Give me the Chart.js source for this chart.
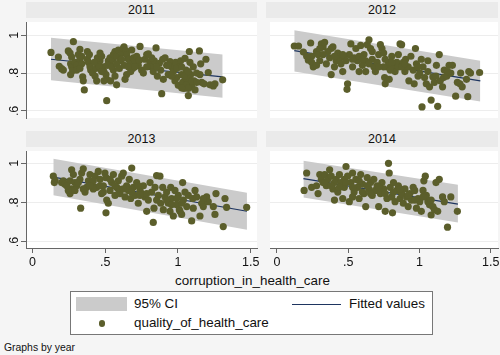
<!DOCTYPE html>
<html><head><meta charset="utf-8">
<script src="https://cdn.jsdelivr.net/npm/chart.js@4/dist/chart.umd.min.js"></script>
<style>
body{margin:0;}
#root{position:relative;width:500px;height:355px;background:#f5f5f5;font-family:"Liberation Sans",Arial,sans-serif;color:#111;overflow:hidden;}
.strip{position:absolute;background:#eaeaea;text-align:center;font-size:12.5px;height:16px;line-height:17px;}
canvas{position:absolute;}
.txt{position:absolute;white-space:nowrap;}
</style></head><body><div id="root"></div>
<script>
const years = ['2011', '2012', '2013', '2014'];
const xTicks = [0, 0.5, 1, 1.5];
const xTickLabels = ['0', '.5', '1', '1.5'];
const yTicks = [0.6, 0.8, 1];
const yTickLabels = ['.6', '.8', '1'];
const seriesNames = ['95% CI', 'Fitted values', 'quality_of_health_care'];
const xTitle = 'corruption_in_health_care';
const noteText = 'Graphs by year';

const pts2011 = [[0.127,0.909],[0.178,0.885],[0.184,0.836],[0.200,0.823],[0.212,0.816],[0.246,0.917],[0.258,0.906],[0.269,0.885],[0.281,0.966],[0.326,0.925],[0.315,0.898],[0.338,0.889],[0.262,0.849],[0.269,0.833],[0.276,0.813],[0.262,0.792],[0.292,0.857],[0.304,0.841],[0.326,0.873],[0.338,0.849],[0.345,0.780],[0.349,0.759],[0.356,0.711],[0.377,0.914],[0.377,0.873],[0.384,0.857],[0.395,0.833],[0.400,0.816],[0.413,0.800],[0.430,0.784],[0.436,0.824],[0.452,0.849],[0.464,0.865],[0.446,0.881],[0.475,0.889],[0.464,0.906],[0.487,0.833],[0.491,0.808],[0.505,0.792],[0.510,0.767],[0.521,0.865],[0.533,0.849],[0.533,0.881],[0.551,0.873],[0.556,0.898],[0.567,0.914],[0.578,0.889],[0.590,0.922],[0.556,0.816],[0.567,0.784],[0.537,0.759],[0.491,0.759],[0.510,0.654],[0.578,0.738],[0.601,0.865],[0.613,0.906],[0.624,0.930],[0.629,0.938],[0.643,0.917],[0.647,0.898],[0.659,0.873],[0.670,0.849],[0.682,0.922],[0.688,0.824],[0.675,0.808],[0.647,0.792],[0.636,0.767],[0.693,0.881],[0.704,0.865],[0.716,0.889],[0.727,0.841],[0.739,0.941],[0.750,0.816],[0.762,0.800],[0.773,0.873],[0.785,0.898],[0.796,0.901],[0.808,0.857],[0.819,0.833],[0.830,0.808],[0.837,0.865],[0.849,0.933],[0.858,0.784],[0.872,0.852],[0.881,0.816],[0.888,0.691],[0.899,0.767],[0.911,0.881],[0.922,0.841],[0.933,0.792],[0.945,0.860],[0.956,0.833],[0.968,0.808],[0.979,0.759],[0.984,0.857],[0.991,0.776],[1.002,0.735],[1.014,0.833],[1.018,0.865],[1.025,0.792],[1.032,0.751],[1.041,0.719],[1.048,0.878],[1.055,0.816],[1.060,0.767],[1.064,0.743],[1.071,0.681],[1.078,0.914],[1.082,0.857],[1.087,0.792],[1.094,0.727],[1.105,0.833],[1.110,0.759],[1.117,0.711],[1.128,0.800],[1.147,0.917],[1.156,0.849],[1.163,0.751],[1.179,0.743],[1.192,0.873],[1.208,0.803],[1.220,0.738],[1.243,0.732],[1.254,0.743],[1.307,0.764],[0.391,0.898],[0.425,0.857],[0.459,0.833],[0.475,0.808],[0.514,0.841],[0.544,0.833],[0.578,0.849],[0.597,0.824],[0.613,0.873],[0.629,0.841],[0.659,0.833],[0.704,0.833],[0.734,0.868],[0.785,0.833],[0.819,0.881],[0.853,0.833],[0.895,0.873],[0.933,0.841],[0.956,0.784],[0.991,0.824],[1.025,0.833],[1.044,0.784],[1.071,0.808],[1.094,0.759],[1.128,0.751],[1.055,0.735],[1.071,0.719],[1.025,0.722],[1.151,0.792],[0.304,0.816],[0.326,0.824],[0.441,0.759]];

const pts2012 = [[0.122,0.943],[0.152,0.943],[0.186,0.911],[0.237,0.959],[0.221,0.868],[0.244,0.889],[0.255,0.833],[0.278,0.914],[0.289,0.898],[0.301,0.865],[0.312,0.954],[0.324,0.938],[0.335,0.963],[0.347,0.849],[0.370,0.881],[0.381,0.930],[0.393,0.938],[0.404,0.833],[0.381,0.792],[0.427,0.906],[0.439,0.873],[0.450,0.849],[0.462,0.808],[0.485,0.865],[0.496,0.743],[0.492,0.714],[0.508,0.898],[0.519,0.954],[0.531,0.833],[0.554,0.930],[0.565,0.865],[0.577,0.808],[0.588,0.946],[0.600,0.841],[0.611,0.898],[0.623,0.808],[0.634,0.950],[0.646,0.976],[0.657,0.930],[0.669,0.873],[0.680,0.833],[0.691,0.808],[0.703,0.857],[0.714,0.898],[0.726,0.950],[0.737,0.930],[0.749,0.906],[0.756,0.776],[0.760,0.743],[0.772,0.833],[0.783,0.857],[0.788,0.767],[0.806,0.889],[0.818,0.833],[0.829,0.808],[0.841,0.857],[0.852,0.898],[0.864,0.954],[0.875,0.950],[0.887,0.857],[0.898,0.808],[0.903,0.873],[0.921,0.833],[0.926,0.759],[0.940,0.889],[0.956,0.816],[0.963,0.743],[0.972,0.930],[0.979,0.849],[0.990,0.784],[1.002,0.800],[1.013,0.873],[1.018,0.621],[1.025,0.833],[1.036,0.776],[1.048,0.743],[1.059,0.865],[1.071,0.727],[1.082,0.657],[1.094,0.780],[1.105,0.751],[1.119,0.841],[1.128,0.624],[1.139,0.898],[1.146,0.759],[1.162,0.727],[1.169,0.776],[1.174,0.816],[1.192,0.784],[1.208,0.841],[1.220,0.800],[1.231,0.841],[1.254,0.678],[1.266,0.751],[1.284,0.743],[1.300,0.727],[1.330,0.767],[1.339,0.675],[1.346,0.808],[1.358,0.800],[1.422,0.803],[0.209,0.889],[0.358,0.914],[0.416,0.865],[0.473,0.889],[0.542,0.881],[0.623,0.865],[0.669,0.914],[0.749,0.833],[0.795,0.816],[0.852,0.833],[0.301,0.930],[0.324,0.898],[0.404,0.889],[0.462,0.898],[0.531,0.873],[0.577,0.889],[0.646,0.849],[0.714,0.833],[0.806,0.857],[0.875,0.833],[0.990,0.833],[1.059,0.808],[1.116,0.784],[1.197,0.808],[1.289,0.800],[0.244,0.857],[0.278,0.841],[0.600,0.873],[0.760,0.873],[0.898,0.849]];

const pts2013 = [[0.143,0.935],[0.155,0.914],[0.150,0.902],[0.200,0.902],[0.212,0.911],[0.223,0.894],[0.258,0.911],[0.269,0.967],[0.281,0.943],[0.292,0.902],[0.269,0.870],[0.258,0.846],[0.246,0.862],[0.304,0.886],[0.326,0.919],[0.338,0.951],[0.349,0.972],[0.331,0.772],[0.361,0.854],[0.372,0.878],[0.384,0.911],[0.395,0.943],[0.407,0.894],[0.430,0.935],[0.441,0.878],[0.452,0.959],[0.464,0.919],[0.475,0.846],[0.487,0.886],[0.498,0.951],[0.505,0.927],[0.505,0.748],[0.510,0.813],[0.521,0.797],[0.533,0.862],[0.544,0.902],[0.556,0.943],[0.567,0.837],[0.578,0.878],[0.590,0.911],[0.601,0.846],[0.613,0.935],[0.624,0.951],[0.636,0.829],[0.647,0.886],[0.659,0.862],[0.665,0.919],[0.675,0.821],[0.682,0.976],[0.693,0.878],[0.704,0.837],[0.716,0.902],[0.727,0.797],[0.739,0.862],[0.750,0.846],[0.762,0.886],[0.773,0.829],[0.785,0.756],[0.796,0.813],[0.808,0.902],[0.819,0.854],[0.830,0.699],[0.835,0.772],[0.842,0.878],[0.853,0.938],[0.865,0.837],[0.876,0.935],[0.881,0.797],[0.895,0.878],[0.899,0.764],[0.911,0.829],[0.922,0.854],[0.933,0.797],[0.945,0.756],[0.950,0.878],[0.956,0.821],[0.968,0.732],[0.979,0.862],[0.991,0.789],[1.002,0.837],[1.009,0.764],[1.014,0.756],[1.025,0.740],[1.032,0.902],[1.037,0.813],[1.048,0.854],[1.060,0.780],[1.071,0.837],[1.094,0.707],[1.101,0.821],[1.117,0.862],[1.128,0.829],[1.151,0.732],[1.163,0.797],[1.174,0.780],[1.197,0.829],[1.208,0.805],[1.243,0.780],[1.254,0.740],[1.261,0.846],[1.311,0.678],[1.323,0.821],[1.334,0.776],[1.472,0.776],[0.315,0.902],[0.418,0.870],[0.533,0.919],[0.590,0.870],[0.739,0.837],[0.922,0.813],[0.991,0.821],[0.418,0.911],[0.464,0.886],[0.727,0.886],[0.349,0.870],[0.395,0.886],[0.487,0.854],[0.567,0.886],[0.624,0.870],[0.682,0.854],[0.785,0.846],[0.853,0.813],[0.956,0.789],[1.025,0.797],[1.105,0.772],[1.174,0.821],[0.235,0.886],[0.292,0.862]];

const pts2014 = [[0.191,0.862],[0.209,0.951],[0.244,0.878],[0.278,0.886],[0.289,0.846],[0.301,0.943],[0.312,0.919],[0.324,0.902],[0.335,0.943],[0.347,0.886],[0.358,0.919],[0.370,0.967],[0.381,0.935],[0.393,0.870],[0.404,0.813],[0.416,0.919],[0.427,0.854],[0.439,0.943],[0.450,0.902],[0.462,0.821],[0.473,0.878],[0.485,0.984],[0.496,0.935],[0.508,0.805],[0.519,0.902],[0.531,0.951],[0.542,0.854],[0.554,0.919],[0.565,0.878],[0.577,0.821],[0.588,0.943],[0.600,0.894],[0.611,0.846],[0.623,0.780],[0.634,0.927],[0.646,0.870],[0.657,0.902],[0.669,0.837],[0.680,0.919],[0.691,0.862],[0.703,0.886],[0.714,0.780],[0.726,0.846],[0.737,0.902],[0.749,0.870],[0.760,0.756],[0.772,0.821],[0.783,1.000],[0.788,0.951],[0.795,0.878],[0.806,0.829],[0.811,0.748],[0.818,0.902],[0.829,0.805],[0.841,0.862],[0.852,0.886],[0.864,0.821],[0.875,0.846],[0.887,0.797],[0.898,0.870],[0.910,0.829],[0.921,0.780],[0.933,0.846],[0.944,0.813],[0.956,0.878],[0.967,0.862],[0.979,0.772],[0.990,0.821],[1.002,0.805],[1.013,0.756],[1.025,0.862],[1.031,0.911],[1.041,0.935],[1.048,0.837],[1.059,0.805],[1.071,0.789],[1.082,0.737],[1.094,0.780],[1.105,0.764],[1.116,0.902],[1.128,0.756],[1.139,0.919],[1.162,0.829],[1.174,0.805],[1.197,0.675],[1.220,0.829],[1.266,0.756],[0.335,0.902],[0.404,0.902],[0.473,0.919],[0.531,0.878],[0.600,0.854],[0.657,0.846],[0.760,0.846],[0.921,0.837],[1.025,0.829],[0.381,0.886],[0.485,0.902],[0.577,0.911],[0.634,0.886],[0.714,0.878],[0.818,0.854],[0.864,0.870],[0.967,0.813],[1.082,0.813],[0.439,0.878],[0.531,0.829]];

const fitX2011 = [0.127, 1.307], fitY2011 = [0.873, 0.780], ciHi2011 = [0.987, 0.898], ciLo2011 = [0.762, 0.670];
const fitX2012 = [0.122, 1.427], fitY2012 = [0.919, 0.759], ciHi2012 = [1.027, 0.865], ciLo2012 = [0.808, 0.649];
const fitX2013 = [0.143, 1.474], fitY2013 = [0.930, 0.756], ciHi2013 = [1.024, 0.850], ciLo2013 = [0.838, 0.662];
const fitX2014 = [0.186, 1.270], fitY2014 = [0.922, 0.792], ciHi2014 = [1.013, 0.891], ciLo2014 = [0.826, 0.699];

const panelData = [
  {pts: pts2011, fx: fitX2011, fy: fitY2011, hi: ciHi2011, lo: ciLo2011},
  {pts: pts2012, fx: fitX2012, fy: fitY2012, hi: ciHi2012, lo: ciLo2012},
  {pts: pts2013, fx: fitX2013, fy: fitY2013, hi: ciHi2013, lo: ciLo2013},
  {pts: pts2014, fx: fitX2014, fy: fitY2014, hi: ciHi2014, lo: ciLo2014}
];

const C = {band: '#cbcbcb', fit: '#1e3560', dot: '#5b5e2b', axis: '#666', grid: '#ededed'};
const FONT = '"Liberation Sans", Arial, sans-serif';

const panelLayout = [
  {px: 26, py: 18, pw: 231, ph: 104, yw: 26, xh: 0, showY: true, showX: false, xr: [-0.0447, 1.543], yr: [0.5624, 1.070], sy: 2},
  {px: 266, py: 18, pw: 232, ph: 104, yw: 0, xh: 0, showY: false, showX: false, xr: [-0.0482, 1.551], yr: [0.5624, 1.070], sy: 2},
  {px: 26, py: 147, pw: 231, ph: 101, yw: 26, xh: 25, showY: true, showX: true, xr: [-0.0447, 1.543], yr: [0.569, 1.063], sy: 131},
  {px: 266, py: 147, pw: 232, ph: 101, yw: 0, xh: 25, showY: false, showX: true, xr: [-0.0482, 1.551], yr: [0.569, 1.063], sy: 131}
];

const root = document.getElementById('root');
const whiteArea = {
  id: 'whiteArea',
  beforeDraw(c) {
    const a = c.chartArea, ctx = c.ctx;
    ctx.save(); ctx.fillStyle = '#ffffff';
    ctx.fillRect(a.left, a.top, a.right - a.left, a.bottom - a.top);
    ctx.restore();
  }
};
const PADR = 10;

panelLayout.forEach((L, i) => {
  const D = panelData[i];
  const strip = document.createElement('div');
  strip.className = 'strip';
  strip.style.left = L.px + 'px'; strip.style.top = L.sy + 'px'; strip.style.width = L.pw + 'px';
  strip.textContent = years[i];
  root.appendChild(strip);

  const cv = document.createElement('canvas');
  const W = L.yw + L.pw + PADR, H = L.ph + L.xh;
  cv.width = W; cv.height = H;
  cv.style.width = W + 'px'; cv.style.height = H + 'px';
  cv.style.left = (L.px - L.yw) + 'px'; cv.style.top = L.py + 'px';
  root.appendChild(cv);

  new Chart(cv, {
    type: 'scatter',
    data: {
      datasets: [
        {type: 'line', label: 'ciHi', data: D.fx.map((x, k) => ({x: x, y: D.hi[k]})), borderWidth: 0, pointRadius: 0, fill: false, order: 3, tension: 0},
        {type: 'line', label: seriesNames[0], data: D.fx.map((x, k) => ({x: x, y: D.lo[k]})), borderWidth: 0, pointRadius: 0, fill: '-1', backgroundColor: C.band, order: 2, tension: 0},
        {type: 'line', label: seriesNames[1], data: D.fx.map((x, k) => ({x: x, y: D.fy[k]})), borderColor: C.fit, borderWidth: 1.2, pointRadius: 0, fill: false, order: 1, tension: 0},
        {type: 'scatter', label: seriesNames[2], data: D.pts.map(p => ({x: p[0], y: p[1]})), backgroundColor: C.dot, borderColor: C.dot, borderWidth: 0, pointRadius: 3.6, order: 0}
      ]
    },
    options: {
      responsive: false, animation: false, devicePixelRatio: 1, events: [],
      layout: {padding: {left: 0, top: 0, bottom: 0, right: PADR}},
      plugins: {legend: {display: false}, tooltip: {enabled: false}},
      scales: {
        x: {
          type: 'linear', min: L.xr[0], max: L.xr[1], display: L.showX,
          afterBuildTicks: s => { s.ticks = xTicks.map(v => ({value: v})); },
          afterFit: s => { s.height = L.xh; s.paddingLeft = 0; s.paddingRight = 0; },
          grid: {drawOnChartArea: false, drawTicks: true, tickLength: 5, tickColor: C.axis},
          border: {display: true, color: C.axis, width: 1},
          ticks: {maxRotation: 0, minRotation: 0, padding: 2, color: '#111', font: {size: 12.5, family: FONT}, callback: (v, k) => xTickLabels[k]}
        },
        y: {
          type: 'linear', min: L.yr[0], max: L.yr[1],
          afterBuildTicks: s => { s.ticks = yTicks.map(v => ({value: v})); },
          afterFit: s => { s.width = L.yw; s.paddingTop = 0; s.paddingBottom = 0; },
          grid: {color: C.grid, lineWidth: 1, drawTicks: L.showY, tickLength: 5, tickColor: C.axis},
          border: {display: L.showY, color: C.axis, width: 1},
          ticks: {display: L.showY, minRotation: 90, maxRotation: 90, crossAlign: 'center', padding: 1, color: '#111', font: {size: 12.5, family: FONT}, callback: (v, k) => yTickLabels[k]}
        }
      }
    },
    plugins: [whiteArea]
  });
});

function addText(t, left, top, size, extra) {
  const d = document.createElement('div');
  d.className = 'txt'; d.textContent = t;
  d.style.left = left + 'px'; d.style.top = top + 'px'; d.style.fontSize = size + 'px';
  if (extra) Object.assign(d.style, extra);
  root.appendChild(d);
  return d;
}
// x-axis title
addText(xTitle, 0, 273, 13.4, {width: '505px', textAlign: 'center', lineHeight: '16px'});
// legend box
const lg = document.createElement('div');
Object.assign(lg.style, {position: 'absolute', left: '70px', top: '291px', width: '361px', height: '42px', border: '1px solid #777', background: '#fff'});
root.appendChild(lg);
const sw = document.createElement('div');
Object.assign(sw.style, {position: 'absolute', left: '76px', top: '297px', width: '51px', height: '14px', background: C.band});
root.appendChild(sw);
const ln = document.createElement('div');
Object.assign(ln.style, {position: 'absolute', left: '292px', top: '303.5px', width: '49px', height: '1.2px', background: C.fit});
root.appendChild(ln);
const dt = document.createElement('div');
Object.assign(dt.style, {position: 'absolute', left: '98.5px', top: '320px', width: '6.6px', height: '6.6px', borderRadius: '50%', background: C.dot});
root.appendChild(dt);
addText(seriesNames[0], 134, 296, 13.4, {lineHeight: '16px'});
addText(seriesNames[1], 349, 296, 13.4, {lineHeight: '16px'});
addText(seriesNames[2], 134, 315, 13.4, {lineHeight: '16px'});
addText(noteText, 4, 341, 10.4, {lineHeight: '13px'});
</script></body></html>
